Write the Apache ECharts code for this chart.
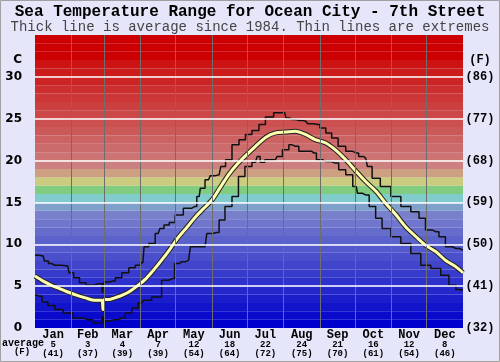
<!DOCTYPE html>
<html>
<head>
<meta charset="utf-8">
<script src="https://cdn.jsdelivr.net/npm/echarts@6/dist/echarts.min.js"></script>
<style>
  html, body { margin: 0; padding: 0; background: #e6e6fa; }
  #main { width: 500px; height: 362px; }
</style>
</head>
<body>
<div id="main"></div>
<script>
// month labels under the chart
var months = ['Jan', 'Feb', 'Mar', 'Apr', 'May', 'Jun', 'Jul', 'Aug', 'Sep', 'Oct', 'Nov', 'Dec'];
var monthMid = [15.5, 45, 74.5, 105, 135.5, 166, 196.5, 227.5, 258, 288.5, 319, 349.5];
var monthStart = [31, 59, 90, 120, 151, 181, 212, 243, 273, 304, 334];
var avgC = [5, 3, 4, 7, 12, 18, 22, 24, 21, 16, 12, 8];
var avgF = [41, 37, 39, 39, 54, 64, 72, 75, 70, 61, 54, 46];

// axis ticks
var cTicks = [0, 5, 10, 15, 20, 25, 30];
var fTicks = [32, 41, 50, 59, 68, 77, 86];

// [day of year, deg C]
var maxLine = [[0,8.7],[7,8.6],[9,8.0],[14,7.7],[17,7.5],[28,7.4],[30,6.6],[36,6.0],[40,5.4],[47,5.1],[54,5.3],[57,5.3],[58,4.2],[59,5.4],[61,5.5],[66,5.6],[71,6.0],[77,6.6],[83,7.2],[88,7.5],[92,7.8],[94,9.7],[100,10.1],[105,11.3],[108,11.9],[112,12.3],[117,12.6],[122,13.5],[131,14.3],[136,14.5],[140,15.7],[142,16.7],[148,17.7],[151,18.2],[157,18.3],[160,19.3],[165,20.1],[171,21.9],[177,22.5],[182,23.1],[188,23.6],[194,24.3],[199,25.2],[208,25.7],[213,25.7],[215,25.1],[219,24.9],[225,24.8],[231,24.7],[234,24.4],[241,24.3],[245,23.9],[251,23.3],[255,22.7],[262,21.7],[268,21.1],[274,20.9],[278,20.5],[282,20.3],[285,19.3],[290,17.9],[299,16.9],[308,15.7],[316,14.5],[325,13.9],[330,13.1],[336,11.7],[342,11.5],[347,10.9],[353,9.7],[359,9.5],[365,9.3]];
var minLine = [[0,3.9],[4,3.8],[8,3.1],[14,2.7],[20,2.2],[28,1.8],[37,1.2],[45,1.0],[54,0.6],[57,0.6],[58,1.4],[60,0.8],[62,0.9],[68,1.0],[74,1.2],[80,1.8],[85,2.4],[91,3.0],[94,3.3],[105,3.7],[111,5.7],[117,5.9],[121,7.7],[125,7.9],[131,8.1],[134,9.7],[145,9.7],[148,11.3],[155,11.4],[159,12.9],[165,14.5],[171,15.7],[176,18.1],[182,19.3],[188,19.8],[191,20.5],[193,19.8],[199,20.1],[205,20.1],[208,20.5],[214,21.3],[219,21.9],[222,21.7],[228,21.1],[234,21.1],[238,20.9],[242,20.1],[248,19.9],[256,19.7],[262,18.9],[268,18.3],[274,16.9],[276,16.1],[282,15.9],[288,14.5],[293,13.1],[299,11.9],[308,10.9],[316,10.1],[325,8.9],[333,7.5],[342,7.1],[350,6.3],[356,5.1],[362,4.6],[365,4.5]];
var avgLine = [[0,6.2],[7,5.6],[14,5.1],[21,4.7],[28,4.3],[36,3.9],[43,3.6],[51,3.3],[57,3.3],[58,2.2],[59,3.4],[63,3.4],[68,3.6],[74,3.9],[80,4.3],[87,5.0],[94,5.8],[101,6.9],[108,8.1],[115,9.4],[122,10.8],[130,12.1],[137,13.3],[144,14.3],[151,15.3],[158,16.8],[165,18.3],[172,19.5],[179,20.5],[188,21.7],[197,22.8],[205,23.3],[214,23.4],[222,23.5],[231,23.1],[239,22.5],[248,22.1],[256,21.3],[265,20.1],[274,18.7],[282,17.5],[291,16.3],[299,14.9],[308,13.5],[316,12.1],[325,10.9],[333,9.9],[342,9.1],[350,8.1],[359,7.3],[365,6.6]];

var MONO = '"Liberation Mono", "DejaVu Sans Mono", monospace';

// colour of the 1 degree band starting at i
function bandColor(i) {
	var fixed = {14: [128,160,204], 15: [128,204,204], 16: [128,204,128], 17: [204,204,128], 18: [204,160,128], 19: [204,128,128]};
	var c;
	if (fixed[i]) c = fixed[i];
	else if (i < 14) { var t = i / 13; c = [Math.round(120*t), Math.round(128*t), 204]; }
	else if (i < 32) { var s = (i - 20) / 11; var g = Math.round(116*(1-s) + 18*s); c = [204, g, g]; }
	else c = [204, 0, 0];
	return 'rgb(' + c.join(',') + ')';
}

var bands = [];
for (var i = 0; i < 35; i++) {
	bands.push([{ yAxis: i, itemStyle: { color: bandColor(i) } }, { yAxis: i + 1 }]);
}
var gridLines = [];
monthStart.forEach(function(d) {
	gridLines.push({ xAxis: d, lineStyle: { color: '#6e6e6e', width: 1, type: 'solid' } });
});
cTicks.slice(1).forEach(function(v) {
	gridLines.push({ yAxis: v, lineStyle: { color: '#ffffff', width: 1.5, type: 'solid' } });
});

var chart = echarts.init(document.getElementById('main'));
var option = {
	animation: false,
	backgroundColor: '#e6e6fa',
	grid: { left: 35, right: 37, top: 35, bottom: 34 },
	graphic: [
		{ type: 'rect', shape: { x: 0.5, y: 0.5, width: 499, height: 361 }, style: { fill: 'none', stroke: '#a0a0a0', lineWidth: 1 }, silent: true },
		{ type: 'text', style: { x: 250, y: 12, text: 'Sea Temperature Range for Ocean City - 7th Street', font: 'bold 16px ' + MONO, fill: '#000', textAlign: 'center', textVerticalAlign: 'middle' } },
		{ type: 'text', style: { x: 250, y: 27, text: 'Thick line is average since 1984. Thin lines are extremes', font: '14px ' + MONO, fill: '#444', textAlign: 'center', textVerticalAlign: 'middle' } },
		{ type: 'text', style: { x: 2, y: 343, text: 'average', font: 'bold 10px ' + MONO, fill: '#000', textAlign: 'left', textVerticalAlign: 'middle' } },
		{ type: 'text', style: { x: 22, y: 352, text: '(F)', font: 'bold 9px ' + MONO, fill: '#000', textAlign: 'center', textVerticalAlign: 'middle' } }
	],
	xAxis: {
		type: 'value', min: 0, max: 365,
		axisLine: { show: false }, axisTick: { show: false }, splitLine: { show: false },
		axisLabel: {
			customValues: monthMid,
			margin: 2,
			formatter: function(v) {
				var k = monthMid.indexOf(v);
				if (k < 0) return '';
				return '{m|' + months[k] + '}\n{n|' + avgC[k] + '}\n{n|(' + avgF[k] + ')}';
			},
			rich: {
				m: { fontFamily: MONO, fontWeight: 'bold', fontSize: 12, lineHeight: 10, color: '#000' },
				n: { fontFamily: MONO, fontWeight: 'bold', fontSize: 9, lineHeight: 9, color: '#000' }
			}
		}
	},
	yAxis: [{
		type: 'value', min: 0, max: 35, position: 'left',
		axisLine: { show: false }, axisTick: { show: false }, splitLine: { show: false },
		axisLabel: {
			customValues: cTicks.concat([32]),
			margin: 13,
			fontFamily: '"DejaVu Sans", sans-serif', fontWeight: 'bold', fontSize: 12, color: '#000',
			formatter: function(v) { return v === 32 ? 'C' : String(v); }
		}
	}, {
		type: 'value', min: 0, max: 35, position: 'right',
		axisLine: { show: false }, axisTick: { show: false }, splitLine: { show: false },
		axisLabel: {
			customValues: cTicks.concat([32]),
			margin: 17, align: 'center',
			fontFamily: MONO, fontWeight: 'bold', fontSize: 12, color: '#000',
			formatter: function(v) {
				if (v === 32) return '(F)';
				return '(' + fTicks[cTicks.indexOf(v)] + ')';
			}
		}
	}],
	series: [{
		type: 'line', data: avgLine, showSymbol: false, silent: true,
		lineStyle: { opacity: 0 },
		markArea: { silent: true, data: bands },
		markLine: { silent: true, symbol: 'none', label: { show: false }, data: gridLines }
	}, {
		name: 'max', type: 'line', data: maxLine, step: 'middle', showSymbol: false,
		lineStyle: { color: '#111', width: 1.5 }
	}, {
		name: 'min', type: 'line', data: minLine, step: 'middle', showSymbol: false,
		lineStyle: { color: '#111', width: 1.5 }
	}, {
		name: 'avg edge', type: 'line', data: avgLine, showSymbol: false, smooth: 0.3,
		lineStyle: { color: '#222', width: 5 }
	}, {
		name: 'average', type: 'line', data: avgLine, showSymbol: false, smooth: 0.3,
		lineStyle: { color: '#ffffb0', width: 3 }
	}]
};
chart.setOption(option);
</script>
</body>
</html>
